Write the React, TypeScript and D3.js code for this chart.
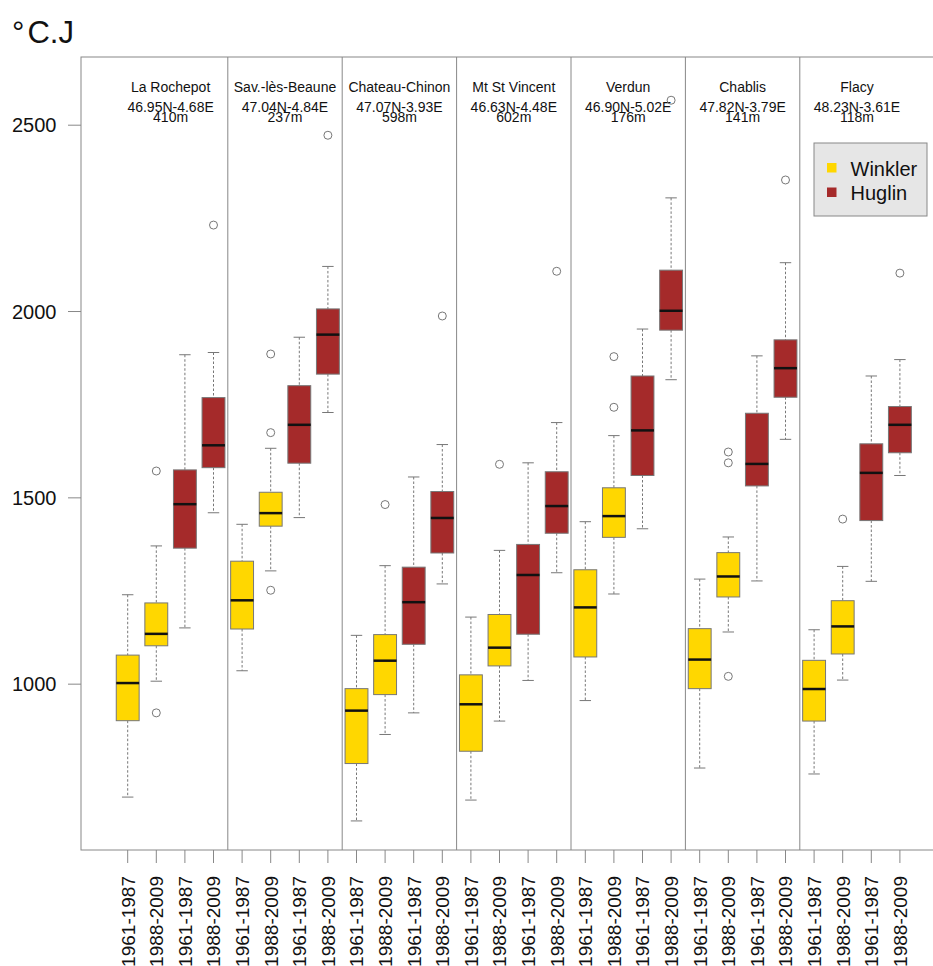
import * as d3 from 'd3';

const stations = ['La Rochepot', 'Sav.-lès-Beaune', 'Chateau-Chinon', 'Mt St Vincent', 'Verdun', 'Chablis', 'Flacy'];
const coords = ['46.95N-4.68E', '47.04N-4.84E', '47.07N-3.93E', '46.63N-4.48E', '46.90N-5.02E', '47.82N-3.79E', '48.23N-3.61E'];
const elevations = ['410m', '237m', '598m', '602m', '176m', '141m', '118m'];
const periods = ['1961-1987', '1988-2009', '1961-1987', '1988-2009'];
const indexOfBox = ['Winkler', 'Winkler', 'Huglin', 'Huglin'];
const yTicks = [1000, 1500, 2000, 2500];

// one value per box, station by station (W61, W88, H61, H88)
const lowWhisker = [
  697, 1008, 1151, 1460,
  1036, 1304, 1447, 1729,
  633, 865, 923, 1269,
  689, 901, 1010, 1299,
  956, 1242, 1417, 1817,
  775, 1140, 1277, 1657,
  759, 1011, 1276, 1560,
];
const q1 = [
  902, 1103, 1365, 1581,
  1148, 1424, 1593, 1832,
  787, 972, 1107, 1352,
  820, 1049, 1134, 1405,
  1073, 1394, 1560, 1950,
  988, 1234, 1532, 1770,
  901, 1081, 1439, 1621,
];
const median = [
  1003, 1135, 1483, 1641,
  1225, 1459, 1696, 1938,
  929, 1063, 1220, 1446,
  946, 1098, 1293, 1478,
  1206, 1451, 1681, 2002,
  1066, 1289, 1591, 1848,
  987, 1155, 1567, 1696,
];
const q3 = [
  1078, 1218, 1575, 1769,
  1330, 1515, 1801, 2007,
  988, 1133, 1314, 1517,
  1025, 1187, 1375, 1570,
  1307, 1527, 1827, 2111,
  1149, 1353, 1727, 1924,
  1064, 1224, 1645, 1745,
];
const highWhisker = [
  1240, 1371, 1884, 1890,
  1429, 1633, 1931, 2121,
  1131, 1318, 1556, 1643,
  1180, 1359, 1594, 1702,
  1436, 1667, 1953, 2305,
  1282, 1395, 1881, 2131,
  1146, 1316, 1827, 1871,
];
const outliers = [
  [], [1572, 923], [], [2232],
  [], [1886, 1675, 1252], [], [2473],
  [], [1482], [], [1988],
  [], [1590], [], [2108],
  [], [1879, 1743], [], [2567],
  [], [1623, 1594, 1021], [], [2353],
  [], [1443], [], [2103],
];

const colors: Record<string, string> = { Winkler: '#FFD700', Huglin: '#A52A2A' };
const font = '"Liberation Sans", Arial, sans-serif';

export default function App() {
  const width = 933;
  const height = 966;
  const plot = { left: 81, right: 945, top: 57, bottom: 850 };

  const x = d3.scaleLinear().domain([1, 28]).range([127.7, 899.9]);
  const y = d3.scaleLinear().domain([555, 2683]).range([plot.bottom, plot.top]);
  const boxW = (x(2) - x(1)) * 0.8;
  const capW = boxW * 0.5;

  const boxes = d3.range(28).map(i => ({
    pos: i + 1,
    kind: indexOfBox[i % 4],
    period: periods[i % 4],
    lo: lowWhisker[i], q1: q1[i], med: median[i], q3: q3[i], hi: highWhisker[i],
    out: outliers[i],
  }));

  return (
    <svg width={width} height={height} style={{ position: 'absolute', left: 0, top: 0, background: '#fff' }}
      fontFamily={font}>
      <text x={12} y={43} fontSize={31} fill="#111">°<tspan dx={3}>C.J</tspan></text>

      {/* frame */}
      <rect x={plot.left} y={plot.top} width={plot.right - plot.left} height={plot.bottom - plot.top}
        fill="none" stroke="#888" strokeWidth={1} />

      {/* station dividers */}
      {d3.range(1, 7).map(k => (
        <line key={k} x1={x(4 * k + 0.5)} x2={x(4 * k + 0.5)} y1={plot.top} y2={plot.bottom}
          stroke="#888" strokeWidth={1} />
      ))}

      {/* headers */}
      {stations.map((s, k) => {
        const cx = x(4 * k + 2.5);
        return (
          <g key={s} fontSize={14} fill="#111" textAnchor="middle">
            <text x={cx} y={92}>{s}</text>
            <text x={cx} y={112}>{coords[k]}</text>
            <text x={cx} y={122}>{elevations[k]}</text>
          </g>
        );
      })}

      {/* y axis */}
      {yTicks.map(t => (
        <g key={t}>
          <line x1={plot.left - 13} x2={plot.left} y1={y(t)} y2={y(t)} stroke="#888" />
          <text x={56.5} y={y(t)} dy="0.35em" textAnchor="end" fontSize={20} fill="#111">{t}</text>
        </g>
      ))}

      {/* x axis */}
      {boxes.map(b => (
        <g key={'xt' + b.pos}>
          <line x1={x(b.pos)} x2={x(b.pos)} y1={plot.bottom} y2={plot.bottom + 13} stroke="#888" />
          <text transform={`translate(${x(b.pos)},${876}) rotate(-90)`} dy="0.36em" textAnchor="end"
            fontSize={19} fill="#111">{b.period}</text>
        </g>
      ))}

      {/* boxes */}
      {boxes.map(b => {
        const cx = x(b.pos);
        return (
          <g key={'b' + b.pos}>
            <line x1={cx} x2={cx} y1={y(b.hi)} y2={y(b.q3)} stroke="#777" strokeDasharray="2.5,2" />
            <line x1={cx} x2={cx} y1={y(b.q1)} y2={y(b.lo)} stroke="#777" strokeDasharray="2.5,2" />
            <line x1={cx - capW / 2} x2={cx + capW / 2} y1={y(b.hi)} y2={y(b.hi)} stroke="#777" />
            <line x1={cx - capW / 2} x2={cx + capW / 2} y1={y(b.lo)} y2={y(b.lo)} stroke="#777" />
            <rect x={cx - boxW / 2} y={y(b.q3)} width={boxW} height={y(b.q1) - y(b.q3)}
              fill={colors[b.kind]} stroke="#777" strokeWidth={1} />
            <line x1={cx - boxW / 2} x2={cx + boxW / 2} y1={y(b.med)} y2={y(b.med)} stroke="#111" strokeWidth={2.5} />
            {b.out.map((o, j) => (
              <circle key={j} cx={cx} cy={y(o)} r={4} fill="none" stroke="#777" strokeWidth={1} />
            ))}
          </g>
        );
      })}

      {/* legend */}
      <g>
        <rect x={814} y={143} width={113} height={73} fill="#e6e6e6" stroke="#888" />
        {['Winkler', 'Huglin'].map((k, i) => (
          <g key={k}>
            <rect x={827} y={163 + i * 24.5} width={9.5} height={9.5} fill={colors[k]} />
            <text x={850.5} y={175.5 + i * 24.5} fontSize={20} fill="#111">{k}</text>
          </g>
        ))}
      </g>
    </svg>
  );
}
